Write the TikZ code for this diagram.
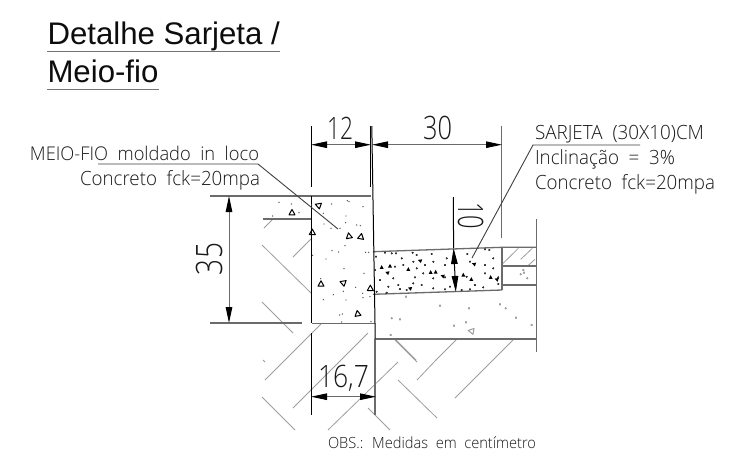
\documentclass[tikz,border=0pt]{standalone}
\usepackage{fontspec}
\usepackage{graphicx}
\usetikzlibrary{arrows.meta}
\setmainfont{Liberation Sans}
\newfontfamily\cadfont{Open Sans Light}[WordSpace=2]
\newcommand{\cadt}[3]{\resizebox{#1pt}{#2pt}{\raisebox{0pt}[7.14pt][0pt]{\cadfont\fontsize{10}{12}\selectfont #3}}}
\definecolor{hatchc}{gray}{0.62}
\definecolor{lnc}{gray}{0.42}
\tikzset{
  hatch/.style={draw=hatchc,line width=0.8pt},
  heavy/.style={draw=lnc,line width=1.3pt},
  edge/.style={draw=black,line width=1pt},
  leader/.style={draw=black!75,line width=0.9pt},
  dim/.style={draw=lnc,line width=1pt,{Triangle[length=16pt,width=6.5pt,black]}-{Triangle[length=16pt,width=6.5pt,black]}},
  lab/.style={inner sep=0pt,outer sep=0pt,anchor=base west,text=black!90},
  title/.style={inner sep=0pt,outer sep=0pt,anchor=base west,font=\fontsize{31.2}{34}\selectfont,text=black!95},
  underl/.style={draw=black!55,line width=1.5pt},
}
\newcommand{\tri}[4][black]{\draw[#1,line width=1pt,line join=round,shift={(#2,#3)},rotate=#4] (0,-3.2) -- (3,2.2) -- (-3,2.2) -- cycle;}
\newcommand{\smtri}[3]{\fill[black,shift={(#1,#2)},rotate=#3] (0,-2.2) -- (2,1.6) -- (-2,1.6) -- cycle;}
\begin{document}
\begin{tikzpicture}[x=1pt,y=-1pt]
\useasboundingbox (0,0) rectangle (734,451);
\fill[white] (0,0) rectangle (734,451);
% title
\node[title] (t1) at (47.5,44) {Detalhe Sarjeta /};
\node[title] (t2) at (47.5,82) {Meio-fio};
\draw[underl] (47,51.5) -- (280,51.5);
\draw[underl] (47,89.5) -- (159,89.5);
% hatching
\foreach \a/\b/\c/\d in {262/245/311/293, 293/257/312/238, 264/228/273/219, 262/302/293/333, 265/380/321/324, 293/408/368/333, 328/430/398/362, 262/397/295/430, 368/408/390/430, 395/340/417/362, 398/380/437/418, 436/360/457/339, 417/380/436/360, 514/339/455/398, 395/339/416/360, 263/360/265/362}
  \draw[hatch] (\a,\b) -- (\c,\d);
\foreach \a/\b/\c/\d in {397/222/445/175, 452/208/487/175, 475/226/495/208}
  \draw[hatch] ({370+\a/3},{190+\b/3}) -- ({370+\c/3},{190+\d/3});
% horizontal structure
\draw[heavy] (263,196) -- (371,196);
\draw[heavy] (263,219) -- (311.7,219);
\draw[heavy] (210,196) -- (263,196);
\draw[heavy] (210,323) -- (302,323);
\draw[heavy] (311.7,323.3) -- (375,323.3);
\draw[heavy] (373,251.7) -- (502,247.3) -- (536.5,247.3);
\draw[heavy] (373,294.3) -- (502,290);
\draw[heavy] (502,266) -- (536.5,266);
\draw[heavy] (502,285) -- (536.5,285);
\draw[heavy] (375,339) -- (536.5,339);
\draw[heavy] (501.7,126) -- (501.7,238);
\draw[heavy] (502,247.3) -- (502,290);
\draw[heavy] (536.7,219) -- (536.7,352);
\draw[heavy] (375,339) -- (375,415);
% curb edges
\draw[edge] (311.7,196) -- (311.7,323.3);
\draw[edge] (371.8,126) -- (375,323.3) -- (375,339);
\draw[edge] (370.3,126) -- (370.3,187);
\draw[edge] (311.3,126) -- (311.3,187);
\draw[edge] (311.7,333) -- (311.7,415);
% concrete curb
\foreach \a/\b in {87/67,124/72,147/98,68/108,185/75,245/72,292/62,297/65,339/80,220/100,288/108,287/128,320/135,331/137,222/132,243/145,270/145,285/197,246/212,266/216,347/217,356/217,188/226,228/237,282/266,342/280,212/296,317/322,280/334,250/344,338/340,339/353,360/350,220/359,288/360,269/405,277/402,275/426,363/425}
  \fill[black!70] ({250+\a/3},{180+\b/3}) circle (0.7);
\foreach \a/\b/\r in {205/76/70,126/98/0,297/168/10,333/170/-10,187/157/0,213/312/0,279/308/70,361/325/0,323/401/10}
  \tri{250+\a/3}{180+\b/3}{\r}
% concrete gutter
\foreach \a/\b in {18/200,45/188,65/190,78/190,128/188,140/195,185/192,95/205,130/215,190/215,230/205,292/192,345/178,370/205,358/180,15/240,75/230,100/225,140/235,165/225,225/225,300/215,345/225,370/235,30/270,70/265,135/262,160/250,190/265,225/262,290/260,345/250,385/262,55/290,85/285,90/297,130/280,155/285,190/295,240/290,275/300,315/285,340/292,385/282,20/305,50/308,110/300,225/298,300/298}
  \fill[black!80] ({370+\a/3},{190+\b/3}) circle (0.75);
\foreach \a/\b/\r in {35/232/0,60/228/0,115/238/0,52/248/70,150/212/70,182/247/0,197/246/0,218/258/70,120/295/70,312/222/70,280/255/0,304/268/0,362/262/0,380/268/70}
  \smtri{370+\a/3}{190+\b/3}{\r}
% lean concrete
\foreach \a/\b in {108/320,210/347,297/355,390/343,407/355,65/385,90/388,438/383,485/405,252/407,288/397,62/435,460/240,452/253,472/265,462/248}
  \fill[hatchc] ({370+\a/3},{190+\b/3}) circle (0.7);
\tri[hatchc]{370+304/3}{190+423/3}{80}
% dimensions
\coordinate (d12a) at (311,144.7); \coordinate (d12b) at (371,144.7);
\coordinate (d30a) at (372,144.7); \coordinate (d30b) at (502,144.7);
\coordinate (d35a) at (229,196); \coordinate (d35b) at (229,323);
\coordinate (d10top) at (453.3,197); \coordinate (d10a) at (453.6,248); \coordinate (d10b) at (455.8,292);
\coordinate (d167a) at (311,396.7); \coordinate (d167b) at (376,396.7);
\draw[dim] (d12a) -- (d12b);
\draw[dim] (d30a) -- (d30b);
\draw[dim] (d35a) -- (d35b);
\draw[dim] (d167a) -- (d167b);
\draw[edge] (d10top) -- (d10a);
\draw[dim,draw=black] (d10a) -- (d10b);
\node[lab] (n12) at (327,139) {\cadt{26}{22}{12}};
\node[lab] (n30) at (423,139) {\cadt{29}{23}{30}};
\node[lab,rotate=90] (n35) at (222,275) {\cadt{32}{26}{35}};
\node[lab,rotate=-90] (n10) at (458,202) {\cadt{27}{25}{10}};
\node[lab] (n167) at (318,387) {\cadt{51}{22}{16,7}};
% leaders
\coordinate (m1) at (98,164); \coordinate (m2) at (258,164); \coordinate (m3) at (338,229);
\draw[leader] (m1) -- (m2) -- (m3);
\coordinate (s1) at (640,145); \coordinate (s2) at (533,145); \coordinate (s3) at (472,258);
\draw[leader] (s1) -- (s2) -- (s3);
% labels
\node[lab] (a1) at (30,160) {\cadt{229}{13.5}{MEIO-FIO moldado in loco}};
\node[lab] (a2) at (80,185) {\cadt{180}{14}{Concreto fck=20mpa}};
\node[lab] (b1) at (535,139) {\cadt{169}{14}{SARJETA (30X10)CM}};
\node[lab] (b2) at (535,164) {\cadt{140}{14}{Inclinação = 3\%}};
\node[lab] (b3) at (535,189) {\cadt{180}{14}{Concreto fck=20mpa}};
\node[lab] (obs) at (328,448) {\cadt{208}{11}{OBS.: Medidas em centímetro}};
\end{tikzpicture}
\end{document}
